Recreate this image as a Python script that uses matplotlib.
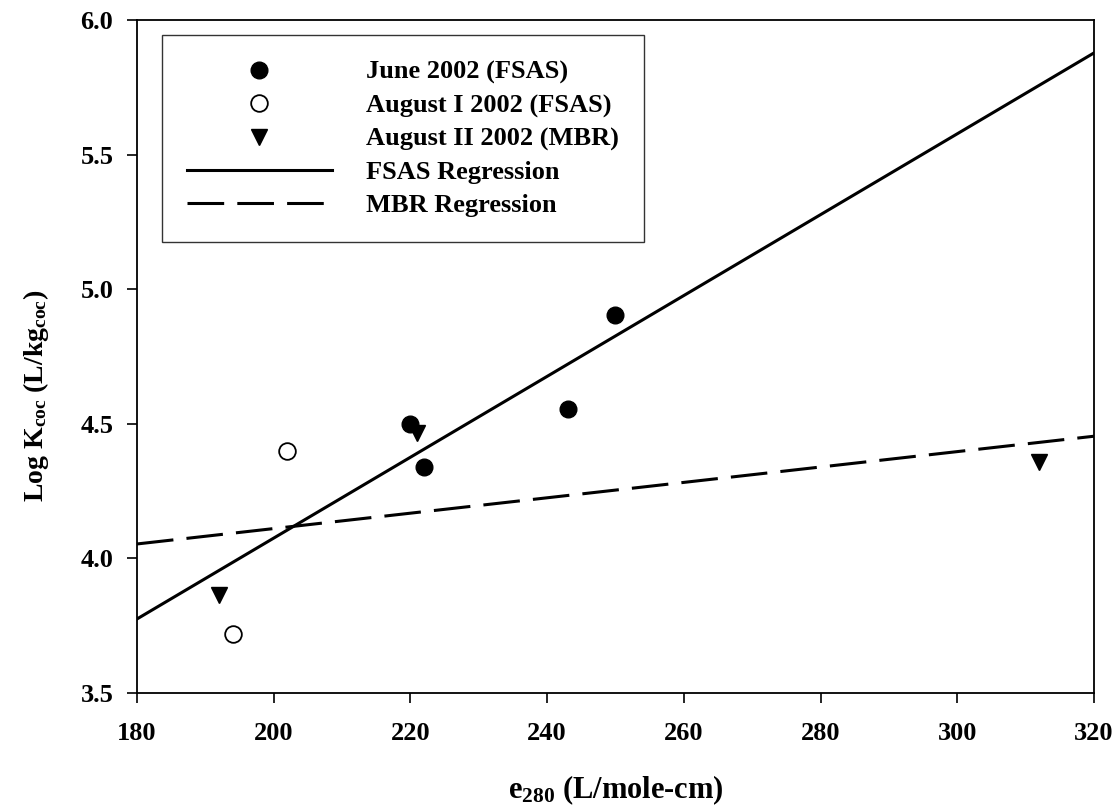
import matplotlib
matplotlib.use("Agg")
import matplotlib.pyplot as plt
import numpy as np

plt.rcParams['font.family'] = 'Liberation Serif'
plt.rcParams['font.weight'] = 'bold'
plt.rcParams['mathtext.fontset'] = 'custom'
plt.rcParams['mathtext.rm'] = 'Liberation Serif:bold'
plt.rcParams['mathtext.it'] = 'Liberation Serif:bold'
plt.rcParams['mathtext.bf'] = 'Liberation Serif:bold'

# sampling events: e280 (L/mole-cm) vs log Kcoc (L/kgcoc)
june_x = [220, 222, 243, 250]
june_y = [4.50, 4.34, 4.555, 4.905]
aug1_x = [202, 194]
aug1_y = [4.40, 3.72]
aug2_x = [192, 221, 312]
aug2_y = [3.865, 4.465, 4.36]

xticks = [180, 200, 220, 240, 260, 280, 300, 320]
yticks = [3.5, 4.0, 4.5, 5.0, 5.5, 6.0]

# regressions: FSAS uses June + August I, MBR uses August II
fsas_fit = np.polyfit(june_x + aug1_x, june_y + aug1_y, 1)
mbr_fit = np.polyfit(aug2_x, aug2_y, 1)
line_x = np.array([180, 320])

fig = plt.figure(figsize=(11.18, 8.10), dpi=100)
ax = fig.add_axes([0.1225, 0.1444, 0.856, 0.8309])

ax.plot(june_x, june_y, 'o', color='black', markersize=12, label='June 2002 (FSAS)', zorder=4)
ax.plot(aug1_x, aug1_y, 'o', markerfacecolor='white', markeredgecolor='black',
        markeredgewidth=1.3, markersize=12, label='August I 2002 (FSAS)', zorder=4)
ax.plot(aug2_x, aug2_y, 'v', color='black', markersize=12, label='August II 2002 (MBR)', zorder=4)
ax.plot(line_x, np.polyval(fsas_fit, line_x), '-', color='black', lw=2.2,
        label='FSAS Regression', zorder=3)
ax.plot(line_x, np.polyval(mbr_fit, line_x), color='black', lw=2.2,
        dashes=(12, 4.3), label='MBR Regression', zorder=3)

ax.set_xlim(180, 320)
ax.set_ylim(3.5, 6.0)
ax.set_xticks(xticks)
ax.set_yticks(yticks)
ax.set_xticklabels([str(v) for v in xticks])
ax.set_yticklabels(['%.1f' % v for v in yticks])
ax.tick_params(direction='out', length=7, width=1.2, labelsize=19, pad=14)
ax.tick_params(axis='y', pad=10)
for sp in ax.spines.values():
    sp.set_linewidth(1.3)

ax.set_xlabel(r'e$_{\mathbf{280}}$ (L/mole-cm)', fontsize=22, fontweight='bold', labelpad=20)
ax.set_ylabel(r'Log K$_{\mathbf{coc}}$ (L/kg$_{\mathbf{coc}}$)', fontsize=20,
              fontweight='bold', labelpad=20)
ax.yaxis.set_label_coords(-0.09, 0.441)

leg = ax.legend(loc='upper left', bbox_to_anchor=(0.026, 0.977), fontsize=19,
                handlelength=5.5, handletextpad=1.3, labelspacing=0.36,
                borderpad=0.95, borderaxespad=0, frameon=True, fancybox=False,
                edgecolor='black', markerscale=1.0)
leg.get_frame().set_linewidth(1.0)

fig.savefig('out.png', dpi=100)
